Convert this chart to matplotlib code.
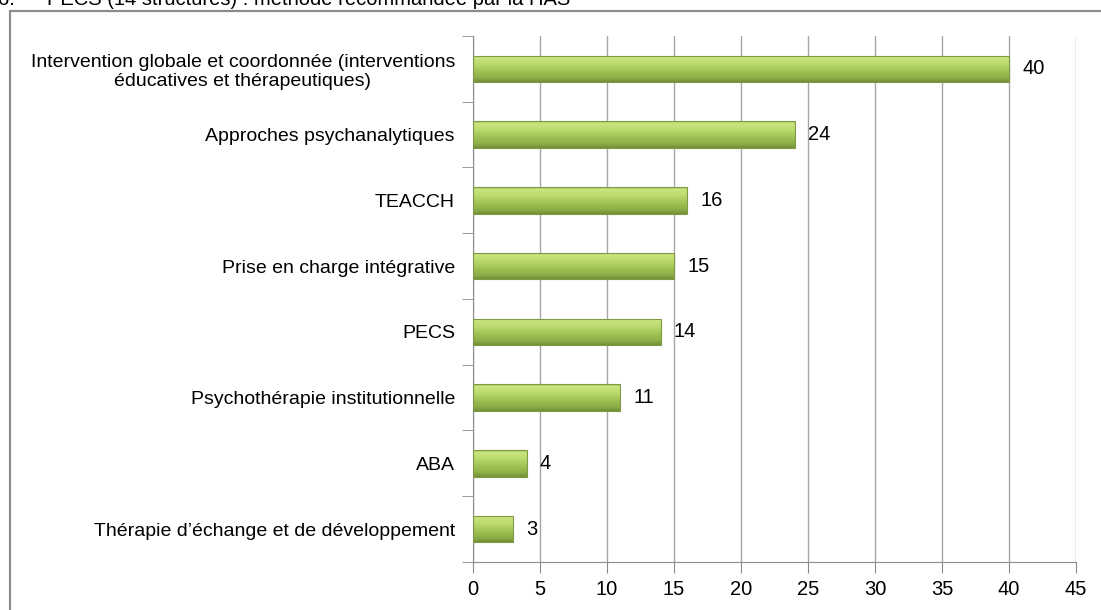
import matplotlib.pyplot as plt
import matplotlib.patches as mpatches
from matplotlib import font_manager
import numpy as np

categories = [
    "Intervention globale et coordonnée (interventions\néducatives et thérapeutiques)",
    "Approches psychanalytiques",
    "TEACCH",
    "Prise en charge intégrative",
    "PECS",
    "Psychothérapie institutionnelle",
    "ABA",
    "Thérapie d\u2019échange et de développement",
]
values = [40, 24, 16, 15, 14, 11, 4, 3]
xticks = [0, 5, 10, 15, 20, 25, 30, 35, 40, 45]
title_num = "6."
title = "PECS (14 structures) : méthode recommandée par la HAS"

plt.rcParams["font.family"] = ["Liberation Sans", "DejaVu Sans"]
names = {f.name for f in font_manager.fontManager.ttflist}
if "Liberation Sans Narrow" in names:
    num_font = ["Liberation Sans Narrow", "DejaVu Sans"]
    num_size = 17
else:
    num_font = ["Liberation Sans", "DejaVu Sans"]
    num_size = 14.5

fig = plt.figure(figsize=(11.01, 6.10), dpi=100)
ax = fig.add_axes([0.4296, 0.0787, 0.5477, 0.8623])

# outer frame of the chart area
frame = mpatches.Rectangle((10 / 1101, -0.1), 1.2, 1 - 11 / 610 + 0.1,
                           transform=fig.transFigure, fill=False,
                           edgecolor="#8c8c8c", linewidth=1.6)
fig.add_artist(frame)
fig.text(-2 / 1101, 1 - 5 / 610, title_num, fontsize=14.5, va="baseline", ha="left")
fig.text(47 / 1101, 1 - 5 / 610, title, fontsize=14.5, va="baseline", ha="left")

n = len(categories)
y = np.arange(n)[::-1]
h = 0.4

# vertical gradient for the bars (light top, darker bottom)
pos = [0.0, 0.08, 0.35, 0.6, 0.85, 1.0]
cols = [(0.62, 0.75, 0.35), (0.79, 0.90, 0.50), (0.72, 0.85, 0.42),
        (0.62, 0.76, 0.33), (0.55, 0.68, 0.28), (0.45, 0.56, 0.22)]
t = np.linspace(0, 1, 64)
grad = np.zeros((64, 1, 3))
for c in range(3):
    grad[:, 0, c] = np.interp(t, pos, [col[c] for col in cols])

bars = ax.barh(y, values, height=h, color="none", edgecolor="#7f9a45",
               linewidth=0.8, zorder=3)
for b, v, yy in zip(bars, values, y):
    im = ax.imshow(grad, extent=(0, v, yy - h / 2, yy + h / 2),
                   aspect="auto", zorder=2, interpolation="bilinear")
    im.set_clip_path(b)
    ax.text(v + 1.0, yy, str(v), va="center", ha="left",
            fontsize=num_size, family=num_font)

ax.set_xlim(0, 45)
ax.set_ylim(-0.5, n - 0.5)
ax.set_xticks(xticks)
ax.set_xticklabels([str(t) for t in xticks], fontsize=num_size, family=num_font)
ax.tick_params(axis="x", length=8, color="#8c8c8c", pad=5)
ax.set_yticks(y)
ax.set_yticklabels(categories, fontsize=14, multialignment="center")
ax.tick_params(axis="y", which="major", length=0, pad=13)
ax.set_yticks(np.arange(n + 1) - 0.5, minor=True)
ax.tick_params(axis="y", which="minor", length=8, color="#8c8c8c")
ax.grid(axis="x", color="#a6a6a6", linewidth=1)
ax.set_axisbelow(True)
for s in ["top", "right"]:
    ax.spines[s].set_visible(False)
for s in ["left", "bottom"]:
    ax.spines[s].set_color("#8c8c8c")

fig.savefig("out.png", dpi=100)
